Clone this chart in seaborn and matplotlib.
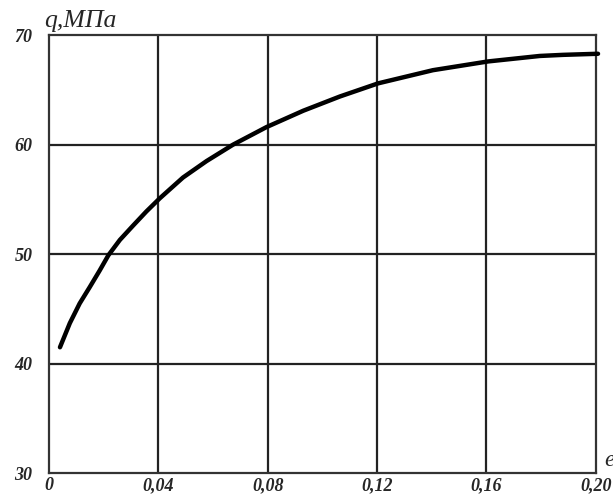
import numpy as np
import pandas as pd
import matplotlib
matplotlib.use("Agg")
import matplotlib.pyplot as plt
import seaborn as sns

sns.set_style("white")
plt.rcParams['font.family'] = ['Liberation Serif', 'DejaVu Serif']

# values
strain = [0.004, 0.0076, 0.0112, 0.0149, 0.0185, 0.0217, 0.0259, 0.0307,
          0.0356, 0.0405, 0.049, 0.0576, 0.0673, 0.0795, 0.0930, 0.1064,
          0.1204, 0.1404, 0.1606, 0.1795, 0.188, 0.2008]
stress = [41.5, 43.7, 45.5, 47.0, 48.5, 49.9, 51.3, 52.6,
          53.9, 55.1, 57.0, 58.5, 60.0, 61.6, 63.1, 64.4,
          65.6, 66.8, 67.6, 68.1, 68.2, 68.3]
x_ticks = [0, 0.04, 0.08, 0.12, 0.16, 0.20]
x_labels = ["0", "0,04", "0,08", "0,12", "0,16", "0,20"]
y_ticks = [30, 40, 50, 60, 70]

df = pd.DataFrame({"e": strain, "q": stress})

fig = plt.figure(figsize=(6.13, 4.95), dpi=100)
ax = fig.add_axes([0.080, 0.044, 0.892, 0.885])

# grid
for xv in x_ticks[1:-1]:
    ax.axvline(xv, color="#222222", lw=1.6, zorder=1)
for yv in y_ticks[1:-1]:
    ax.axhline(yv, color="#222222", lw=1.6, zorder=1)

sns.lineplot(data=df, x="e", y="q", ax=ax, color="black", lw=3.2,
             zorder=3, clip_on=False, solid_joinstyle="round",
             solid_capstyle="round")

ax.set_xlim(0, 0.20)
ax.set_ylim(30, 70)
ax.set_xticks(x_ticks)
ax.set_xticklabels(x_labels)
ax.set_yticks(y_ticks)
ax.tick_params(length=0, labelsize=13)
ax.tick_params(axis="y", pad=12)
ax.tick_params(axis="x", pad=3)
for lab in ax.get_xticklabels() + ax.get_yticklabels():
    lab.set_fontstyle("italic")
    lab.set_fontweight("bold")
ax.set_xlabel("")
ax.set_ylabel("")

for s in ax.spines.values():
    s.set_color("#333333")
    s.set_linewidth(1.6)

fig.text(0.072, 0.935, "q,МПа", fontsize=18.5, style="italic", ha="left", va="bottom")
fig.text(0.985, 0.07, "e", fontsize=17, style="italic", ha="left", va="center")

fig.savefig("out.png", dpi=100)
